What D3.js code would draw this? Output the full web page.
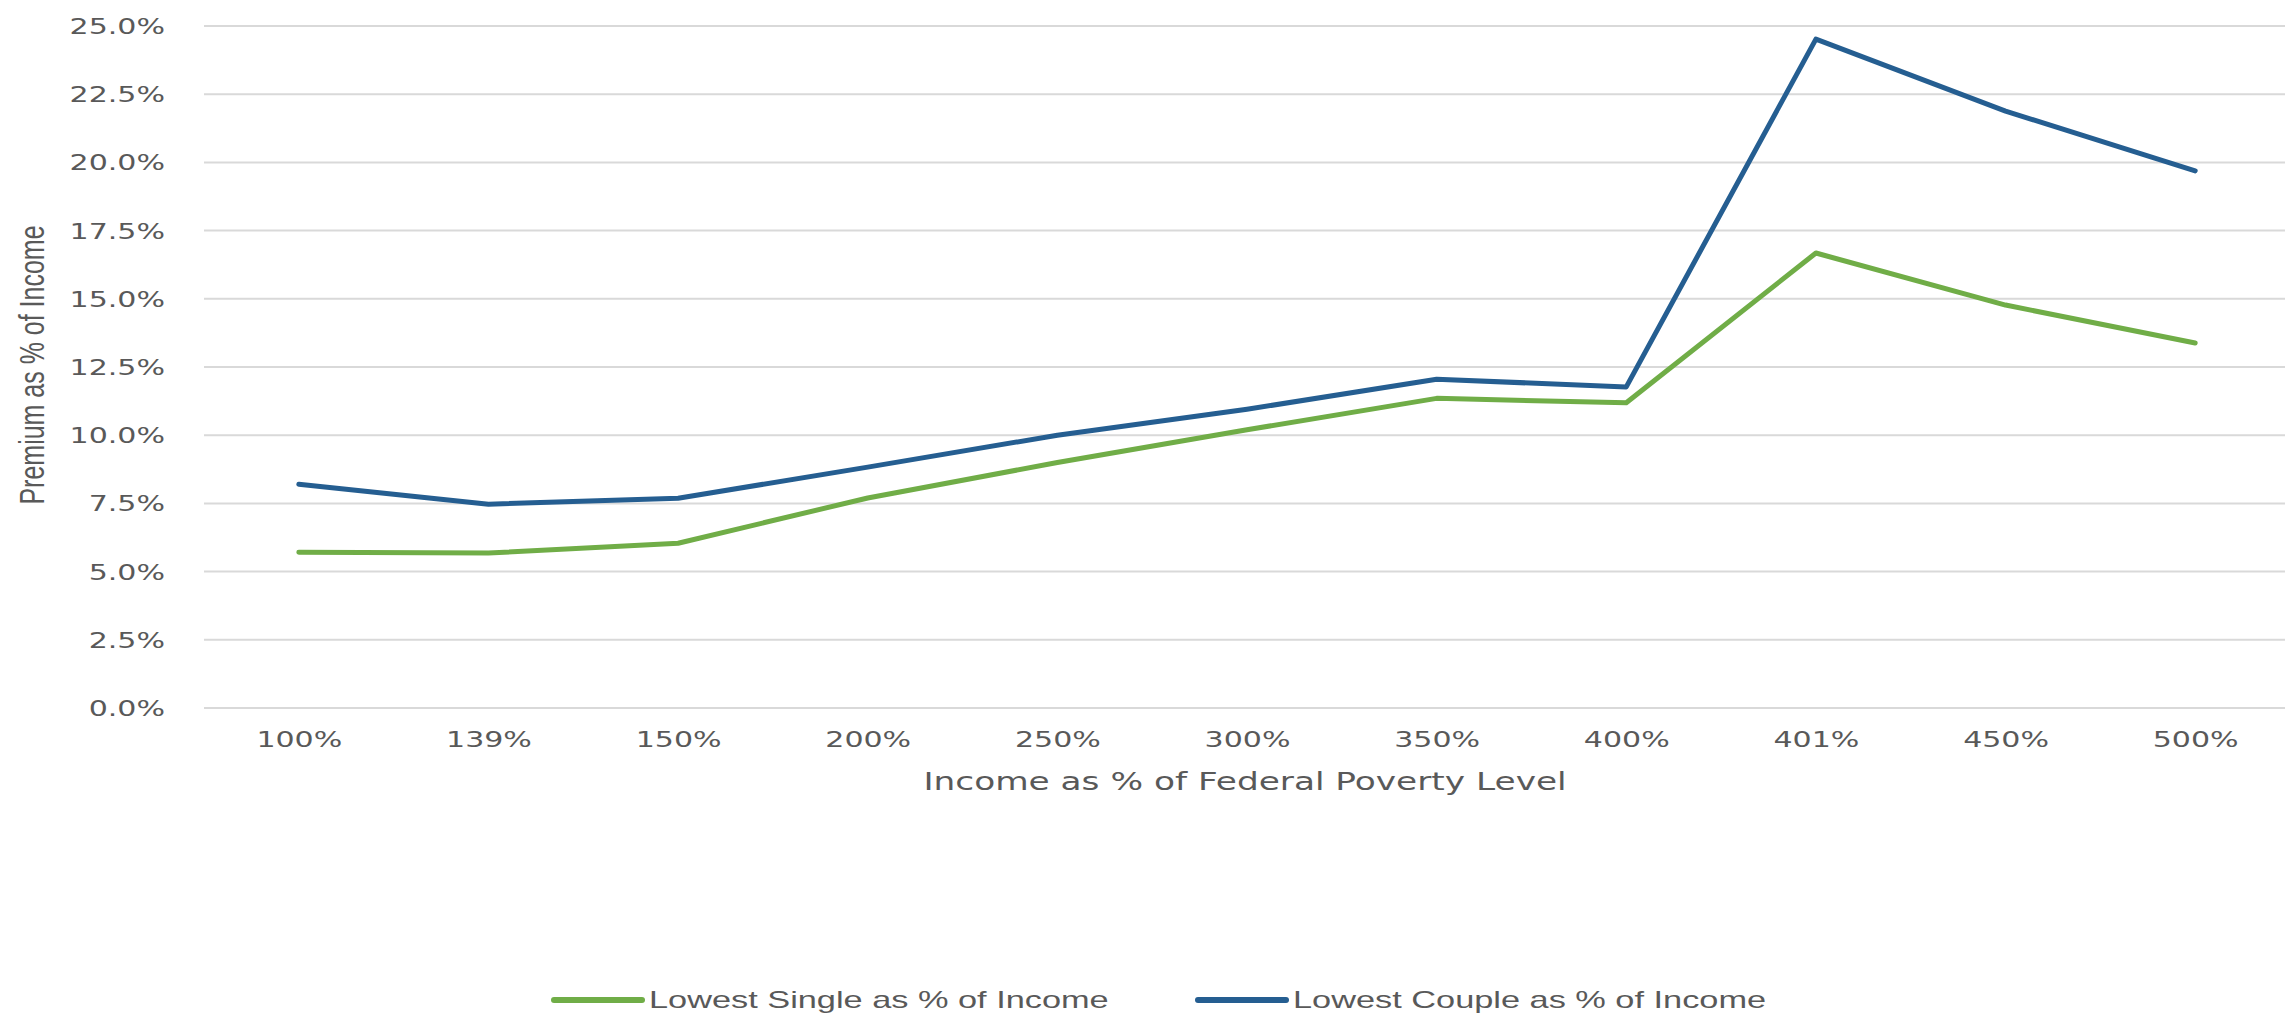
<!DOCTYPE html>
<html>
<head>
<meta charset="utf-8">
<script src="https://cdn.jsdelivr.net/npm/d3@7"></script>
<style>
  body { margin: 0; background: #fff; }
  text { fill: #595959; }
</style>
</head>
<body>
<div id="chart"></div>
<script>
// data
var categories = ['100%', '139%', '150%', '200%', '250%', '300%', '350%', '400%', '401%', '450%', '500%'];
var singleVals = [5.71, 5.68, 6.04, 7.70, 9.0, 10.2, 11.35, 11.19, 16.68, 14.77, 13.38];
var coupleVals = [8.2, 7.47, 7.69, 8.83, 10.0, 10.95, 12.05, 11.77, 24.52, 21.88, 19.69];
var yTicks = [0, 2.5, 5, 7.5, 10, 12.5, 15, 17.5, 20, 22.5, 25];
var seriesNames = ['Lowest Single as % of Income', 'Lowest Couple as % of Income'];

var width = 2285, height = 1016;
var plotLeft = 204, plotRight = 2285, plotTop = 26, plotBottom = 708;
var sx = 1.43; // the picture is stretched sideways, so is its text
var colors = ['#70AD47', '#255E91'];

var svg = d3.select('#chart').append('svg')
  .attr('width', width)
  .attr('height', height);

var xscale = d3.scalePoint()
  .domain(categories)
  .range([plotLeft, plotRight + 5])
  .padding(0.5);

var yscale = d3.scaleLinear()
  .domain([0, 25])
  .range([plotBottom, plotTop]);

// gridlines
svg.append('g')
  .selectAll('line')
  .data(yTicks)
  .enter().append('line')
  .attr('x1', plotLeft)
  .attr('x2', plotRight)
  .attr('y1', function(d) { return yscale(d); })
  .attr('y2', function(d) { return yscale(d); })
  .attr('stroke', '#D9D9D9')
  .attr('stroke-width', 2);

// y axis
var yaxis = svg.append('g')
  .attr('transform', 'translate(' + plotLeft + ',0)')
  .call(d3.axisLeft(yscale).tickValues(yTicks).tickSize(0)
    .tickFormat(function(d) { return d.toFixed(1) + '%'; }));
yaxis.select('.domain').remove();
yaxis.selectAll('text')
  .attr('x', 0)
  .attr('dy', '0.36em')
  .attr('transform', 'translate(-39,0) scale(' + sx + ',1)')
  .style('font-family', 'DejaVu Sans')
  .style('font-size', '21px')
  .style('fill', '#595959');

// x axis
var xaxis = svg.append('g')
  .attr('transform', 'translate(0,' + plotBottom + ')')
  .call(d3.axisBottom(xscale).tickSize(0));
xaxis.select('.domain').remove();
xaxis.selectAll('text')
  .attr('y', 0)
  .attr('dy', 0)
  .attr('transform', 'translate(0,39) scale(' + sx + ',1)')
  .style('font-family', 'DejaVu Sans')
  .style('font-size', '21px')
  .style('fill', '#595959');

// axis titles
svg.append('text')
  .attr('transform', 'translate(1245,790) scale(' + sx + ',1)')
  .attr('text-anchor', 'middle')
  .style('font-family', 'DejaVu Sans')
  .style('font-size', '24px')
  .text('Income as % of Federal Poverty Level');

svg.append('text')
  .attr('transform', 'translate(44,365) scale(' + sx + ',1) rotate(-90)')
  .attr('text-anchor', 'middle')
  .style('font-family', 'Liberation Sans')
  .style('font-size', '25px')
  .text('Premium as % of Income');

// lines
var line = d3.line()
  .x(function(d, i) { return xscale(categories[i]); })
  .y(function(d) { return yscale(d); });

[singleVals, coupleVals].forEach(function(vals, k) {
  svg.append('path')
    .datum(vals)
    .attr('d', line)
    .attr('fill', 'none')
    .attr('stroke', colors[k])
    .attr('stroke-width', 5)
    .attr('stroke-linejoin', 'round')
    .attr('stroke-linecap', 'round');
});

// legend
var legendX = [554, 1198];
var legend = svg.append('g')
  .selectAll('g')
  .data(seriesNames)
  .enter().append('g')
  .attr('transform', function(d, i) { return 'translate(' + legendX[i] + ',1000)'; });
legend.append('line')
  .attr('x1', 0)
  .attr('x2', 88)
  .attr('stroke', function(d, i) { return colors[i]; })
  .attr('stroke-width', 6)
  .attr('stroke-linecap', 'round');
legend.append('text')
  .attr('transform', 'translate(95,8) scale(' + sx + ',1)')
  .style('font-family', 'Liberation Sans')
  .style('font-size', '24px')
  .text(function(d) { return d; });
</script>
</body>
</html>
